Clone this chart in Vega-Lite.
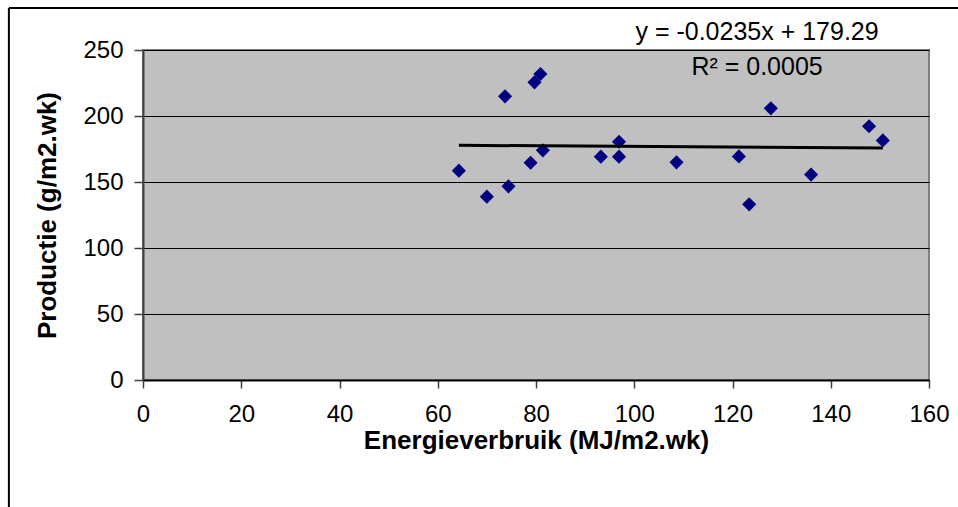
{
  "$schema": "https://vega.github.io/schema/vega-lite/v6.json",
  "width": 786,
  "height": 330,
  "padding": {"left": 7, "top": 7, "right": 0, "bottom": 0},
  "background": "white",
  "config": {
    "font": "Liberation Sans",
    "view": {"fill": "#C0C0C0", "stroke": "#808080", "strokeWidth": 2},
    "axis": {"labelFont": "Liberation Sans", "titleFont": "Liberation Sans", "labelColor": "black", "titleColor": "black", "tickColor": "#404040", "domainColor": "#404040", "domainWidth": 2, "tickWidth": 1.5}
  },
  "datasets": {
    "points": [
      {"energie": 64.3, "productie": 158.6},
      {"energie": 70.0, "productie": 138.9},
      {"energie": 73.7, "productie": 214.9},
      {"energie": 74.4, "productie": 146.7},
      {"energie": 78.9, "productie": 164.6},
      {"energie": 79.7, "productie": 225.5},
      {"energie": 80.9, "productie": 231.8},
      {"energie": 81.4, "productie": 174.0},
      {"energie": 93.2, "productie": 169.2},
      {"energie": 96.9, "productie": 180.5},
      {"energie": 96.9, "productie": 169.2},
      {"energie": 108.6, "productie": 164.9},
      {"energie": 121.3, "productie": 169.4},
      {"energie": 123.4, "productie": 133.1},
      {"energie": 127.8, "productie": 205.8},
      {"energie": 136.0, "productie": 155.6},
      {"energie": 147.8, "productie": 192.2},
      {"energie": 150.6, "productie": 181.5}
    ],
    "trend": [
      {"energie": 64.3, "productie": 177.8},
      {"energie": 150.6, "productie": 175.75}
    ],
    "labels": [
      {"energie": 125.0, "productie": 257.6, "text": "y = -0.0235x + 179.29"},
      {"energie": 125.0, "productie": 231.1, "text": "R² = 0.0005"}
    ],
    "frame": [
      {"x1": -27.3, "x2": 170, "y1": 281.8, "y2": 281.8},
      {"x1": -27.3, "x2": -27.3, "y1": 281.8, "y2": -100}
    ]
  },
  "layer": [
    {
      "data": {"name": "points"},
      "mark": {"type": "point", "shape": "diamond", "filled": true, "color": "#000080", "size": 200, "opacity": 1},
      "encoding": {
        "x": {
          "field": "energie", "type": "quantitative",
          "scale": {"domain": [0, 160], "nice": false, "zero": false},
          "axis": {"values": [0, 20, 40, 60, 80, 100, 120, 140, 160], "grid": false, "title": "Energieverbruik (MJ/m2.wk)", "titleFontSize": 26, "titleFontWeight": "bold", "titlePadding": 1, "labelFontSize": 24, "labelPadding": 14, "tickSize": 8, "domainColor": "black", "labelFlush": false}
        },
        "y": {
          "field": "productie", "type": "quantitative",
          "scale": {"domain": [0, 250], "nice": false, "zero": false},
          "axis": {"values": [0, 50, 100, 150, 200, 250], "grid": true, "gridColor": "black", "gridWidth": 1, "gridOpacity": 1, "title": "Productie (g/m2.wk)", "titleFontSize": 26, "titleFontWeight": "bold", "titlePadding": 22, "labelFontSize": 24, "labelPadding": 11, "tickSize": 9, "labelFlush": false}
        }
      }
    },
    {
      "data": {"name": "trend"},
      "mark": {"type": "line", "color": "black", "strokeWidth": 3},
      "encoding": {
        "x": {"field": "energie", "type": "quantitative"},
        "y": {"field": "productie", "type": "quantitative"}
      }
    },
    {
      "data": {"name": "labels"},
      "mark": {"type": "text", "fontSize": 25, "color": "black", "align": "center", "baseline": "alphabetic"},
      "encoding": {
        "x": {"field": "energie", "type": "quantitative"},
        "y": {"field": "productie", "type": "quantitative"},
        "text": {"field": "text"}
      }
    },
    {
      "data": {"name": "frame"},
      "mark": {"type": "rule", "color": "black", "strokeWidth": 2},
      "encoding": {
        "x": {"field": "x1", "type": "quantitative"},
        "x2": {"field": "x2"},
        "y": {"field": "y1", "type": "quantitative"},
        "y2": {"field": "y2"}
      }
    }
  ]
}
